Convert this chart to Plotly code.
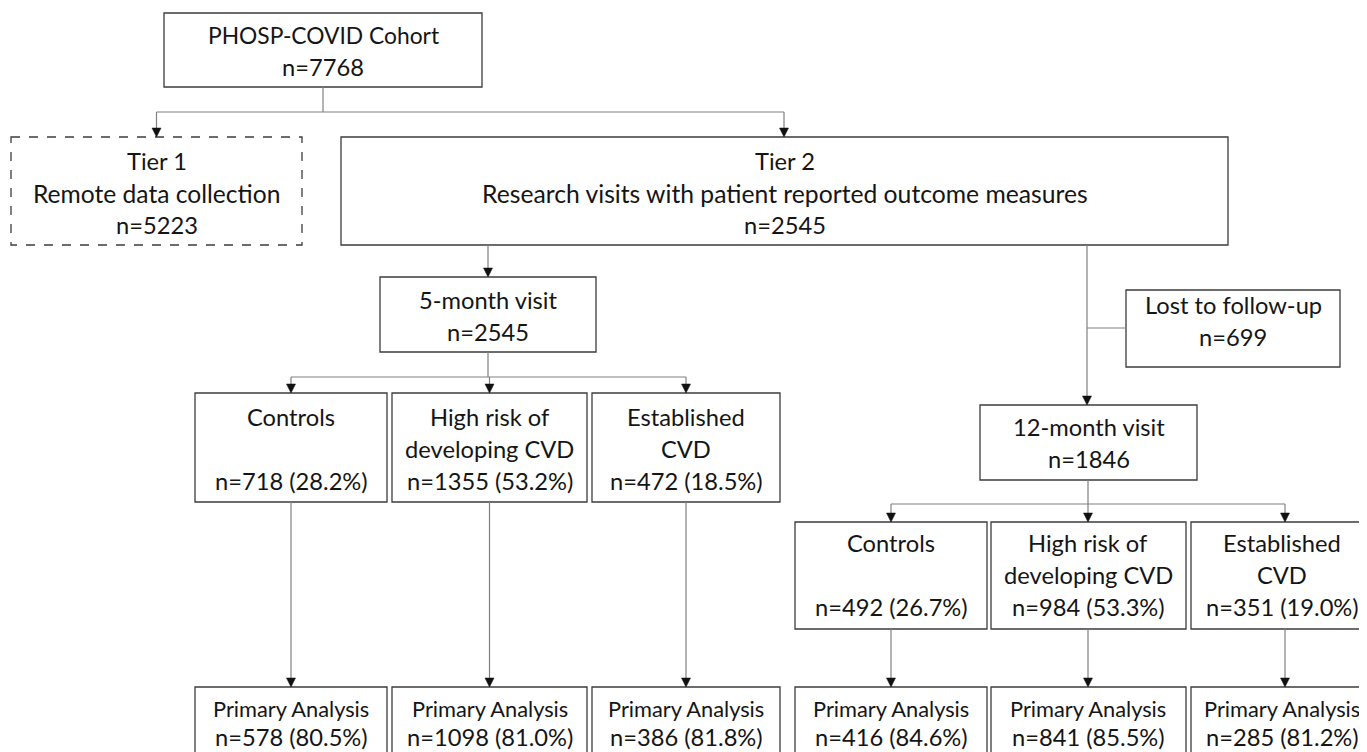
import plotly.graph_objects as go

# ---------------- data ----------------
cohort_label = "PHOSP-COVID Cohort"
cohort_n = 7768
tier1_lines = ["Tier 1", "Remote data collection"]
tier1_n = 5223
tier2_lines = ["Tier 2", "Research visits with patient reported outcome measures"]
tier2_n = 2545
visit5_label = "5-month visit"
visit5_n = 2545
visit12_label = "12-month visit"
visit12_n = 1846
lost_label = "Lost to follow-up"
lost_n = 699
group_lines = [["Controls", ""], ["High risk of", "developing CVD"], ["Established", "CVD"]]
n5 = [718, 1355, 472]
pct5 = [28.2, 53.2, 18.5]
n12 = [492, 984, 351]
pct12 = [26.7, 53.3, 19.0]
primary_label = "Primary Analysis"
prim5 = [578, 1098, 386]
primpct5 = [80.5, 81.0, 81.8]
prim12 = [416, 841, 285]
primpct12 = [84.6, 85.5, 81.2]

# ---------------- layout geometry (page pixels) ----------------
W, H = 1367, 752
OFF = 8  # default page body margin
FONT = "Lato"
FS = 23.7
LINE = 32
BORDER = "#3c3c3c"
CONN = "#808080"
size_override = {
    "Remote data collection": 24.6,
    "Research visits with patient reported outcome measures": 24.7,
    "PHOSP-COVID Cohort": 22.8,
    "Primary Analysis": 21.8,
}

boxes = {
    "top": (164, 482, 13, 87),
    "tier1": (11, 302, 137, 245),
    "tier2": (341, 1228, 137, 245),
    "v5": (380, 596, 277, 352),
    "lost": (1126, 1340, 290, 367),
    "v12": (980, 1197, 405, 480),
}
g5_x = [(195, 387), (392, 587), (592, 780)]
g5_y = (393, 502)
g12_x = [(795, 987), (991, 1186), (1191, 1366)]
g12_c = [891, 1088, 1285]
g12_text_c = [891, 1088, 1282]
g12_y = (522, 629)
p_y = (687, 790)

fig = go.Figure()
shapes = []
annotations = []


def rect(x0, x1, y0, y1, dash="solid"):
    shapes.append(dict(type="rect", xref="x", yref="y", x0=x0, x1=x1, y0=y0, y1=y1,
                       line=dict(color=BORDER, width=1.3, dash=dash), fillcolor="rgba(0,0,0,0)"))


def text_lines(xc, ys, lines):
    for y, t in zip(ys, lines):
        if t == "":
            continue
        annotations.append(dict(x=xc, y=y, xref="x", yref="y", text=t,
                                showarrow=False, xanchor="center", yanchor="middle",
                                font=dict(family=FONT, size=size_override.get(t, FS), color="#151515")))


def rows(first, n, step=LINE):
    return [first + i * step for i in range(n)]


def line(x0, y0, x1, y1):
    shapes.append(dict(type="line", xref="x", yref="y", x0=x0, y0=y0, x1=x1, y1=y1,
                       line=dict(color=CONN, width=1.2)))


def arrow(x, y0, y1):
    line(x, y0, x, y1 - 8)
    shapes.append(dict(type="path", xref="x", yref="y",
                       path=f"M {x-4.5},{y1-9} L {x+4.5},{y1-9} L {x},{y1} Z",
                       fillcolor="#111111", line=dict(color="#111111", width=0.5)))


def cx(b):
    return (b[0] + b[1]) / 2


# boxes and text
b = boxes["top"]; rect(*b); text_lines(cx(b), rows(35, 2), [cohort_label, f"n={cohort_n}"])
b = boxes["tier1"]; rect(*b, dash="dash"); text_lines(cx(b), rows(161, 3), tier1_lines + [f"n={tier1_n}"])
b = boxes["tier2"]; rect(*b); text_lines(cx(b), rows(161, 3), tier2_lines + [f"n={tier2_n}"])
b = boxes["v5"]; rect(*b); text_lines(cx(b), rows(300, 2), [visit5_label, f"n={visit5_n}"])
b = boxes["lost"]; rect(*b); text_lines(cx(b), rows(305, 2), [lost_label, f"n={lost_n}"])
b = boxes["v12"]; rect(*b); text_lines(cx(b), rows(427, 2), [visit12_label, f"n={visit12_n}"])

g5c = [(a + c) / 2 for a, c in g5_x]
for i, (x0, x1) in enumerate(g5_x):
    rect(x0, x1, *g5_y)
    text_lines(g5c[i], rows(417, 3), group_lines[i] + [f"n={n5[i]} ({pct5[i]:.1f}%)"])
    rect(x0, x1, *p_y)
    text_lines(g5c[i], [708, 737], [primary_label, f"n={prim5[i]} ({primpct5[i]:.1f}%)"])
for i, (x0, x1) in enumerate(g12_x):
    rect(x0, x1, *g12_y)
    text_lines(g12_text_c[i], rows(543, 3), group_lines[i] + [f"n={n12[i]} ({pct12[i]:.1f}%)"])
    rect(x0, x1, *p_y)
    text_lines(g12_text_c[i], [708, 737], [primary_label, f"n={prim12[i]} ({primpct12[i]:.1f}%)"])

# connectors
top = boxes["top"]; t1 = boxes["tier1"]; t2 = boxes["tier2"]
split_y = 112
line(cx(top), top[3], cx(top), split_y)
line(cx(t1), split_y, 784, split_y)
arrow(cx(t1), split_y, t1[2])
arrow(784, split_y, t2[2])

v5 = boxes["v5"]
arrow(cx(v5), t2[3], v5[2])
line(cx(v5), v5[3], cx(v5), 377)
line(g5c[0], 377, g5c[-1], 377)
for xc in g5c:
    arrow(xc, 377, g5_y[0])
    arrow(xc, g5_y[1], p_y[0])

v12 = boxes["v12"]; lost = boxes["lost"]
arrow(1087, t2[3], v12[2])
line(1087, 328, lost[0], 328)
line(1088, v12[3], 1088, 504)
line(g12_c[0], 504, g12_c[-1], 504)
for xc in g12_c:
    arrow(xc, 504, g12_y[0])
    arrow(xc, g12_y[1], p_y[0])

fig.update_layout(
    width=W - OFF, height=H - OFF, margin=dict(l=0, r=0, t=0, b=0),
    paper_bgcolor="white", plot_bgcolor="white",
    xaxis=dict(range=[OFF, W], visible=False, fixedrange=True),
    yaxis=dict(range=[H, OFF], visible=False, fixedrange=True),
    shapes=shapes, annotations=annotations, showlegend=False,
)
fig.write_html("out.html")
